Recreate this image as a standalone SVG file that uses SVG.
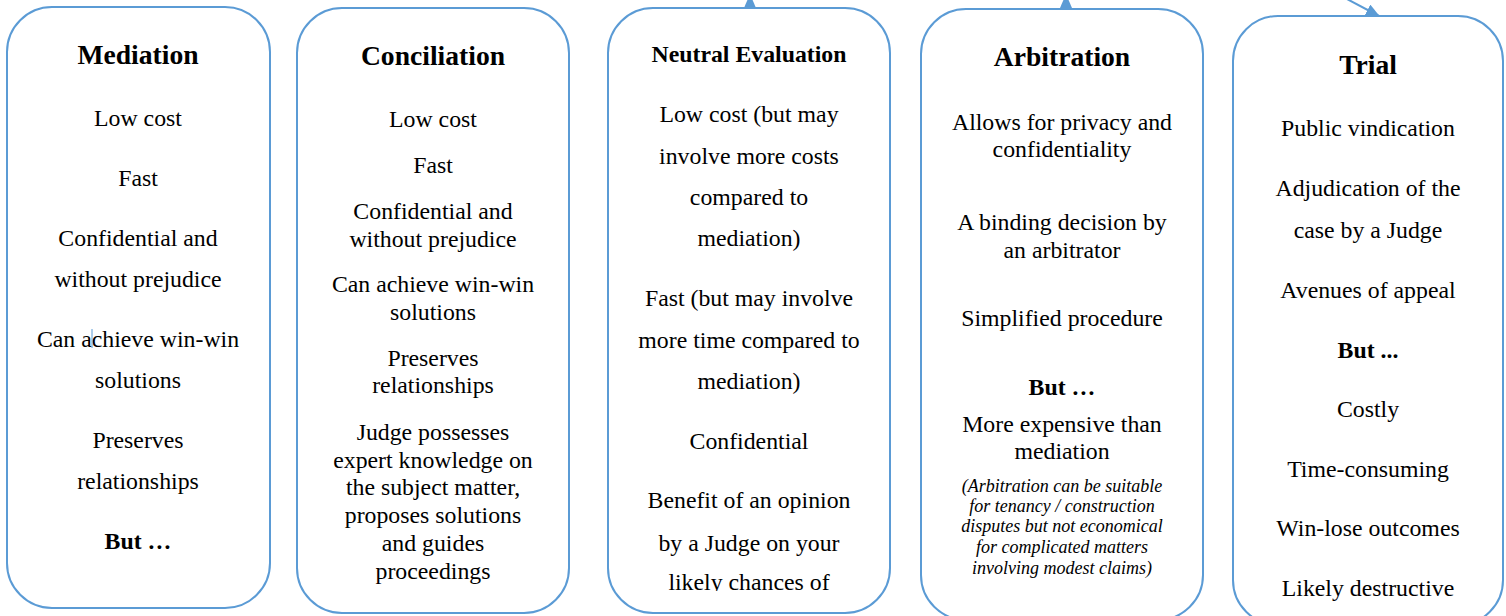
<svg xmlns="http://www.w3.org/2000/svg" width="1506" height="616" viewBox="0 0 1506 616">
<defs>
<style>
.box{fill:#fff;stroke:#5B9BD5;stroke-width:2}
text{font-family:"Liberation Serif","Times New Roman",serif;fill:#000;text-anchor:middle}
.t{font-size:23.8px}
.h{font-size:27.6px;font-weight:bold}
.hs{font-size:23.8px;font-weight:bold}
.b{font-size:23.8px;font-weight:bold}
.i{font-size:18px;font-style:italic}
.conn{stroke:#5B9BD5;stroke-width:2;fill:none}
</style>
<marker id="ah" markerWidth="14" markerHeight="12" refX="13" refY="6" orient="auto" markerUnits="userSpaceOnUse">
<path d="M0,0 L14,6 L0,12 z" fill="#5B9BD5"/>
</marker>
<clipPath id="clipNE"><rect x="600" y="0" width="300" height="591"/></clipPath>
</defs>
<g id="connectors">
<line class="conn" x1="750" y1="10" x2="750" y2="-5" marker-end="url(#ah)"/>
<line class="conn" x1="1066" y1="11" x2="1066" y2="-5" marker-end="url(#ah)"/>
<line class="conn" x1="1330" y1="-10" x2="1379" y2="16" marker-end="url(#ah)"/>
</g>
<g id="mediation">
<rect class="box" x="7" y="7" width="263" height="601" rx="45" ry="45"/>
<text class="h" x="138" y="64">Mediation</text>
<text class="t" x="138" y="126">Low cost</text>
<text class="t" x="138" y="186">Fast</text>
<text class="t" x="138" y="246">Confidential and</text>
<text class="t" x="138" y="287">without prejudice</text>
<text class="t" x="138" y="347">Can achieve win-win</text>
<text class="t" x="138" y="388">solutions</text>
<text class="t" x="138" y="448">Preserves</text>
<text class="t" x="138" y="489">relationships</text>
<text class="b" x="138" y="549">But …</text>
<line x1="92" y1="329" x2="92" y2="348" stroke="#5B9BD5" stroke-width="1"/>
</g>
<g id="conciliation">
<rect class="box" x="297" y="8" width="272" height="605" rx="45" ry="45"/>
<text class="h" x="433" y="65">Conciliation</text>
<text class="t" x="433" y="127">Low cost</text>
<text class="t" x="433" y="173">Fast</text>
<text class="t" x="433" y="219">Confidential and</text>
<text class="t" x="433" y="247">without prejudice</text>
<text class="t" x="433" y="292">Can achieve win-win</text>
<text class="t" x="433" y="320">solutions</text>
<text class="t" x="433" y="366">Preserves</text>
<text class="t" x="433" y="393">relationships</text>
<text class="t" x="433" y="440">Judge possesses</text>
<text class="t" x="433" y="468">expert knowledge on</text>
<text class="t" x="433" y="495">the subject matter,</text>
<text class="t" x="433" y="523">proposes solutions</text>
<text class="t" x="433" y="551">and guides</text>
<text class="t" x="433" y="579">proceedings</text>
</g>
<g id="neutral-evaluation">
<rect class="box" x="608" y="8" width="282" height="605" rx="45" ry="45"/>
<text class="hs" x="749" y="62">Neutral Evaluation</text>
<text class="t" x="749" y="122">Low cost (but may</text>
<text class="t" x="749" y="164">involve more costs</text>
<text class="t" x="749" y="205">compared to</text>
<text class="t" x="749" y="246">mediation)</text>
<text class="t" x="749" y="306">Fast (but may involve</text>
<text class="t" x="749" y="348">more time compared to</text>
<text class="t" x="749" y="389">mediation)</text>
<text class="t" x="749" y="449">Confidential</text>
<text class="t" x="749" y="508">Benefit of an opinion</text>
<text class="t" x="749" y="551">by a Judge on your</text>
<text class="t" x="749" y="590" clip-path="url(#clipNE)">likely chances of</text>
</g>
<g id="arbitration">
<rect class="box" x="921" y="9" width="282" height="611" rx="45" ry="45"/>
<text class="h" x="1062" y="66">Arbitration</text>
<text class="t" x="1062" y="130">Allows for privacy and</text>
<text class="t" x="1062" y="157">confidentiality</text>
<text class="t" x="1062" y="230">A binding decision by</text>
<text class="t" x="1062" y="258">an arbitrator</text>
<text class="t" x="1062" y="326">Simplified procedure</text>
<text class="b" x="1062" y="395">But …</text>
<text class="t" x="1062" y="432">More expensive than</text>
<text class="t" x="1062" y="459">mediation</text>
<text class="i" x="1062" y="492">(Arbitration can be suitable</text>
<text class="i" x="1062" y="512">for tenancy / construction</text>
<text class="i" x="1062" y="532">disputes but not economical</text>
<text class="i" x="1062" y="553">for complicated matters</text>
<text class="i" x="1062" y="574">involving modest claims)</text>
</g>
<g id="trial">
<rect class="box" x="1233" y="16" width="270" height="609" rx="45" ry="45"/>
<text class="h" x="1368" y="74">Trial</text>
<text class="t" x="1368" y="136">Public vindication</text>
<text class="t" x="1368" y="196">Adjudication of the</text>
<text class="t" x="1368" y="238">case by a Judge</text>
<text class="t" x="1368" y="298">Avenues of appeal</text>
<text class="b" x="1368" y="358">But ...</text>
<text class="t" x="1368" y="417">Costly</text>
<text class="t" x="1368" y="477">Time-consuming</text>
<text class="t" x="1368" y="536">Win-lose outcomes</text>
<text class="t" x="1368" y="596">Likely destructive</text>
</g>
</svg>
